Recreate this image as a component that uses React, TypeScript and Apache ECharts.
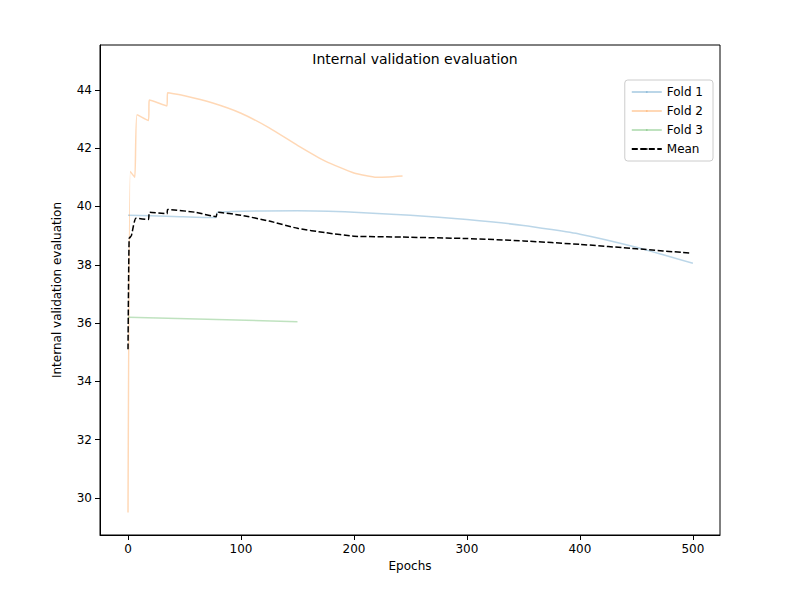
import React, { useEffect, useRef } from "react";
import * as echarts from "echarts";

const fold1: [number, number][] = [[0,39.7],[40,39.66],[78,39.62],[79,39.8],[150,39.85],[200,39.8],[250,39.7],[300,39.55],[350,39.35],[400,39.05],[450,38.6],[500,38.05]];
const fold2: [number, number][] = [[0,29.5],[2,41.2],[6,41.0],[8,43.15],[18,42.95],[19,43.65],[34.5,43.45],[35,43.9],[50,43.8],[75,43.55],[100,43.2],[125,42.7],[150,42.1],[175,41.55],[200,41.15],[220,41.0],[243,41.05]];
const fold3: [number, number][] = [[0,36.2],[150,36.05]];
const mean: [number, number][] = [[0,35.1],[1,38.9],[3,39.0],[7,39.6],[18,39.55],[19,39.8],[34.5,39.75],[35,39.9],[60,39.8],[78,39.65],[79,39.8],[100,39.7],[125,39.5],[150,39.25],[175,39.1],[200,38.98],[243,38.95],[300,38.9],[350,38.82],[400,38.7],[450,38.55],[498,38.4]];
const xTicks = [0, 100, 200, 300, 400, 500];
const yTicks = [30, 32, 34, 36, 38, 40, 42, 44];

export default function App() {
  const ref = useRef<HTMLDivElement>(null);
  useEffect(() => {
    const chart = echarts.init(ref.current!, null, { renderer: "svg" });
    const font = "DejaVu Sans";
    const mk = (name: string, data: [number, number][], color: string, dashed = false) => ({
      name, type: "line", data, showSymbol: false, symbol: "none", color, smooth: 0.15,
      lineStyle: { color, width: 1.5, type: dashed ? [6, 2.5] : "solid" },
    });
    chart.setOption({
      animation: false,
      textStyle: { fontFamily: font },
      title: { text: "Internal validation evaluation", left: 402, textAlign: "center", top: 39, textStyle: { fontSize: 14, fontWeight: "normal", color: "#000", fontFamily: font } },
      legend: {
        orient: "vertical", right: 95, top: 72, itemWidth: 30, itemHeight: 2, itemGap: 7,
        borderColor: "#ccc", borderWidth: 1, borderRadius: 3, padding: [6, 10, 6, 6],
        textStyle: { fontSize: 12, color: "#000", fontFamily: font }, align: "left",
      },
      grid: { show: true, borderColor: "#000", borderWidth: 1, left: 92, right: 88, top: 37, bottom: 73 },
      xAxis: {
        type: "value", min: -24.8, max: 524, name: "Epochs", nameLocation: "middle", nameGap: 25,
        nameTextStyle: { fontSize: 12, color: "#000" },
        axisLine: { show: true, onZero: false, lineStyle: { color: "#000" } },
        axisTick: { show: true, customValues: xTicks, lineStyle: { color: "#000" } },
        axisLabel: { customValues: xTicks, color: "#000", fontSize: 12 },
        splitLine: { show: false },
      },
      yAxis: {
        type: "value", min: 28.73, max: 45.54, name: "Internal validation evaluation", nameLocation: "middle", nameGap: 37,
        nameTextStyle: { fontSize: 12, color: "#000" },
        axisLine: { show: true, onZero: false, lineStyle: { color: "#000" } },
        axisTick: { show: true, customValues: yTicks, lineStyle: { color: "#000" } },
        axisLabel: { customValues: yTicks, color: "#000", fontSize: 12 },
        splitLine: { show: false },
      },
      series: [
        mk("Fold 1", fold1, "rgba(31,119,180,0.3)"),
        mk("Fold 2", fold2, "rgba(255,127,14,0.3)"),
        mk("Fold 3", fold3, "rgba(44,160,44,0.3)"),
        mk("Mean", mean, "#000", true),
      ],
    });
    return () => chart.dispose();
  }, []);
  return <div ref={ref} style={{ width: 800, height: 600 }} />;
}
